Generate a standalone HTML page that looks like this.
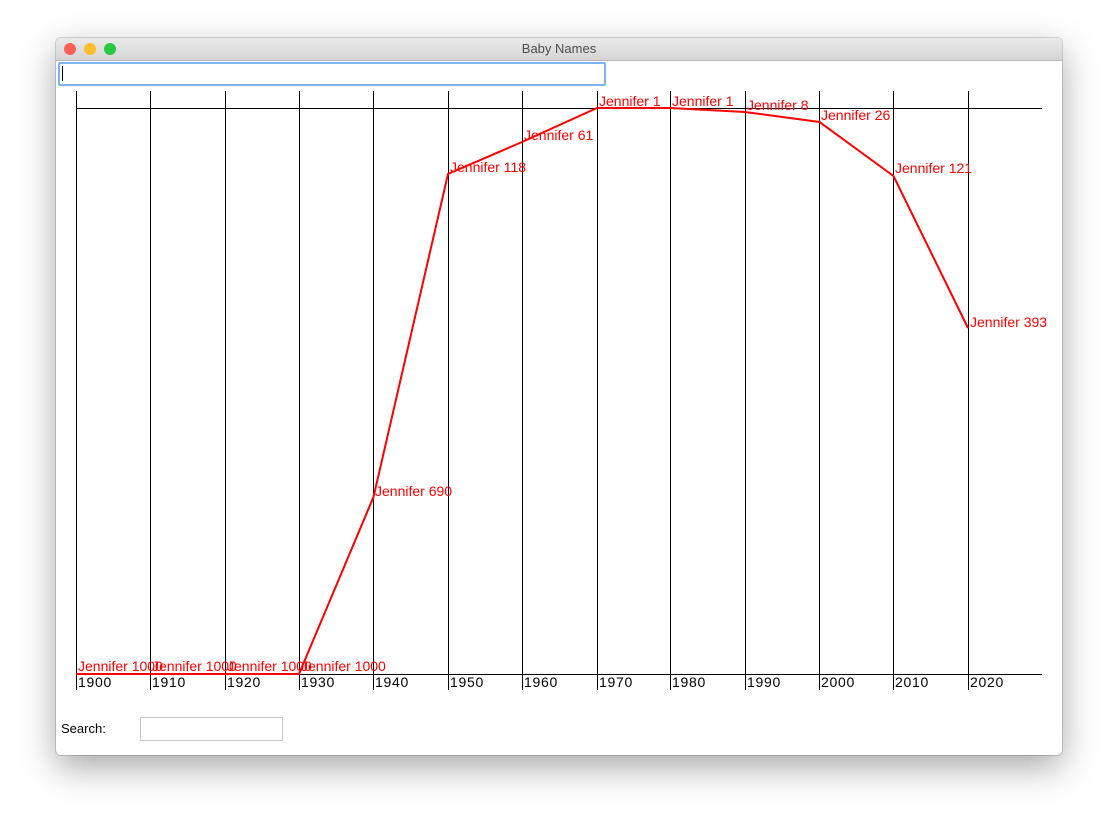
<!DOCTYPE html>
<html><head><style>
body{margin:0;width:1118px;height:829px;background:#fff;font-family:"Liberation Sans",sans-serif;position:relative;overflow:hidden}
.win{position:absolute;left:56px;top:38px;width:1006px;height:717px;background:#fff;border-radius:5px;box-shadow:0 12px 35px rgba(0,0,0,0.35),0 0 0 1px rgba(0,0,0,0.15);overflow:hidden}
.tb{position:absolute;left:0;top:0;width:100%;height:22px;background:linear-gradient(#ebebeb,#d5d5d5);border-bottom:1px solid #b9b9b9;text-align:center;font-size:13px;line-height:22px;color:#4d4d4d}
.dot{position:absolute;top:5px;width:12px;height:12px;border-radius:50%}
</style></head><body>
<div class="win">
<div class="tb">Baby Names
<div class="dot" style="left:8px;background:#fe5f57"></div>
<div class="dot" style="left:28px;background:#febc2e"></div>
<div class="dot" style="left:48px;background:#28c840"></div>
</div>
</div>
<div style="position:absolute;left:58px;top:62px;width:544px;height:20px;border:2px solid #7cb4f0;border-radius:2px;background:#fff"></div>
<div style="position:absolute;left:62px;top:66px;width:1px;height:15px;background:#000"></div>
<svg width="1118" height="829" style="position:absolute;left:0;top:0" font-family="Liberation Sans, sans-serif" font-size="14">
<g stroke="#000" stroke-width="1">
<line x1="76" y1="108.5" x2="1042" y2="108.5"/>
<line x1="76" y1="674.5" x2="1042" y2="674.5"/>
<line x1="76.5" y1="91" x2="76.5" y2="690"/><line x1="150.5" y1="91" x2="150.5" y2="690"/><line x1="225.5" y1="91" x2="225.5" y2="690"/><line x1="299.5" y1="91" x2="299.5" y2="690"/><line x1="373.5" y1="91" x2="373.5" y2="690"/><line x1="448.5" y1="91" x2="448.5" y2="690"/><line x1="522.5" y1="91" x2="522.5" y2="690"/><line x1="597.5" y1="91" x2="597.5" y2="690"/><line x1="670.5" y1="91" x2="670.5" y2="690"/><line x1="745.5" y1="91" x2="745.5" y2="690"/><line x1="819.5" y1="91" x2="819.5" y2="690"/><line x1="893.5" y1="91" x2="893.5" y2="690"/><line x1="968.5" y1="91" x2="968.5" y2="690"/>
</g>
<g fill="#000" letter-spacing="0.7">
<text x="78" y="687">1900</text><text x="152" y="687">1910</text><text x="227" y="687">1920</text><text x="301" y="687">1930</text><text x="375" y="687">1940</text><text x="450" y="687">1950</text><text x="524" y="687">1960</text><text x="599" y="687">1970</text><text x="672" y="687">1980</text><text x="747" y="687">1990</text><text x="821" y="687">2000</text><text x="895" y="687">2010</text><text x="970" y="687">2020</text>
</g>
<polyline fill="none" stroke="#ff0000" stroke-width="2" points="76,674 150.5,674 225,674 299,674 373.5,497 448,174 522,142 597,108 670.5,108 745,112 819.5,122 893.5,176 968,328"/>
<g fill="#ff0000">
<text x="78" y="671">Jennifer 1000</text><text x="152" y="671">Jennifer 1000</text><text x="227" y="671">Jennifer 1000</text><text x="301" y="671">Jennifer 1000</text>
<text x="375" y="496">Jennifer 690</text><text x="450" y="172">Jennifer 118</text><text x="524" y="140">Jennifer 61</text><text x="599" y="106">Jennifer 1</text><text x="672" y="106">Jennifer 1</text><text x="747" y="110">Jennifer 8</text><text x="821" y="120">Jennifer 26</text><text x="895" y="173">Jennifer 121</text><text x="970" y="327">Jennifer 393</text>
</g>
<text x="61" y="733" fill="#000" font-size="13">Search:</text>
</svg>
<div style="position:absolute;left:140px;top:717px;width:141px;height:22px;border:1px solid #c8c8c8;background:#fff"></div>
</body></html>
